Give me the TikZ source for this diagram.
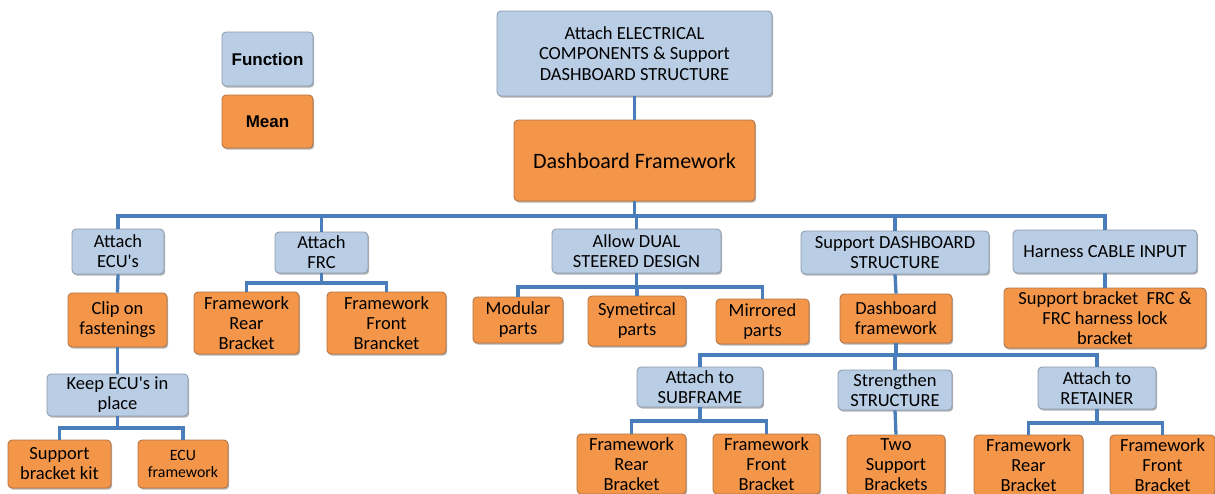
\documentclass[tikz,border=0pt]{standalone}
\usepackage{fontspec}
\setmainfont{Carlito}[Ligatures=TeXOff]
\newfontfamily\legendfont{Liberation Sans}
\usetikzlibrary{shadows}
\definecolor{bfill}{HTML}{B9CDE5}
\definecolor{bdraw}{HTML}{8A98AA}
\definecolor{ofill}{HTML}{F4964A}
\definecolor{odraw}{HTML}{B0713F}
\definecolor{lineblue}{HTML}{4A7EBB}
\tikzset{
  box/.style={rounded corners=4pt, line width=0.8pt, inner sep=0pt, align=center,
    font=\fontsize{18.5}{20}\selectfont,
    drop shadow={shadow xshift=1.2pt, shadow yshift=-1.6pt, opacity=0.3, fill=black}},
  fn/.style={box, fill=bfill, draw=bdraw},
  mn/.style={box, fill=ofill, draw=odraw},
  conn/.style={draw=lineblue, line width=3.3pt},
  lgd/.style={font=\legendfont\bfseries\fontsize{17}{20}\selectfont}
}
\begin{document}
\begin{tikzpicture}[x=1pt,y=-1pt]
\useasboundingbox (0,0) rectangle (1215,493);
\clip (0,0) rectangle (1215,493);
% legend
\node[fn, lgd, minimum width=91pt, minimum height=54pt] (fun) at (267.5,59) {Function};
\node[mn, lgd, minimum width=91pt, minimum height=53pt] (mean) at (267.5,121.5) {Mean};
% top
\node[fn, minimum width=275pt, minimum height=85pt, font=\fontsize{18.5}{20.5}\selectfont] (top) at (634.5,53.5) {Attach ELECTRICAL\\COMPONENTS \& Support\\DASHBOARD STRUCTURE};
\node[mn, minimum width=241pt, minimum height=81pt, font=\fontsize{22}{24}\selectfont] (dfw) at (634.5,160.5) {Dashboard Framework};
% level 1 functions
\node[fn, minimum width=92pt, minimum height=45pt] (ecu) at (118,251.5) {Attach\\ECU's};
\node[fn, minimum width=93pt, minimum height=41pt] (frc) at (321.5,252.5) {Attach\\FRC};
\node[fn, minimum width=169pt, minimum height=44pt] (dual) at (636.5,251) {Allow DUAL\\STEERED DESIGN};
\node[fn, minimum width=188pt, minimum height=43pt] (sds) at (895,252.5) {Support DASHBOARD\\STRUCTURE};
\node[fn, minimum width=184pt, minimum height=43pt] (har) at (1105,251.5) {Harness CABLE INPUT};
% level 1 means
\node[mn, minimum width=99pt, minimum height=54pt] (clip) at (117.5,320) {Clip on\\fastenings};
\node[mn, minimum width=105pt, minimum height=62pt] (frbA) at (246.5,323) {Framework\\Rear\\Bracket};
\node[mn, minimum width=119pt, minimum height=62pt] (ffbA) at (386.5,323) {Framework\\Front\\Brancket};
\node[mn, minimum width=90pt, minimum height=46pt] (mod) at (518,320) {Modular\\parts};
\node[mn, minimum width=98pt, minimum height=50pt] (sym) at (637,321) {Symetircal\\parts};
\node[mn, minimum width=93pt, minimum height=45pt] (mir) at (762.5,321.5) {Mirrored\\parts};
\node[mn, minimum width=112pt, minimum height=49pt] (dfs) at (896,318.5) {Dashboard\\framework};
\node[mn, minimum width=202pt, minimum height=60pt] (sbf) at (1105,318) {Support bracket\ \ FRC \&\\FRC harness lock\\bracket};
% level 2
\node[fn, minimum width=141pt, minimum height=42pt] (keep) at (117.5,395) {Keep ECU's in\\place};
\node[mn, minimum width=103pt, minimum height=48pt] (sbk) at (59.5,464) {Support\\bracket kit};
\node[mn, minimum width=90pt, minimum height=48pt, font=\fontsize{15.8}{17}\selectfont] (ecuf) at (183,464) {ECU\\framework};
\node[fn, minimum width=126pt, minimum height=40pt] (sub) at (700,387) {Attach to\\SUBFRAME};
\node[fn, minimum width=114pt, minimum height=40pt] (str) at (895,390) {Strengthen\\STRUCTURE};
\node[fn, minimum width=118pt, minimum height=42pt] (ret) at (1097,388) {Attach to\\RETAINER};
\node[mn, minimum width=109pt, minimum height=60pt] (frbB) at (631.5,464) {Framework\\Rear\\Bracket};
\node[mn, minimum width=107pt, minimum height=60pt] (ffbB) at (766.5,464) {Framework\\Front\\Bracket};
\node[mn, minimum width=98pt, minimum height=60pt] (two) at (896,465) {Two\\Support\\Brackets};
\node[mn, minimum width=109pt, minimum height=60pt] (frbC) at (1028.5,465) {Framework\\Rear\\Bracket};
\node[mn, minimum width=105pt, minimum height=60pt] (ffbC) at (1162.5,465) {Framework\\Front\\Bracket};
% connectors
\draw[conn] (top.south) -- (dfw.north);
\foreach \c in {ecu,frc,dual,sds,har}
  \draw[conn] (dfw.south) -- (dfw.south |- 0,216) -| (\c.north);
\draw[conn] (ecu.south) -- (clip.north);
\draw[conn] (clip.south) -- (keep.north);
\foreach \c in {sbk,ecuf}
  \draw[conn] (keep.south) -- (keep.south |- 0,428) -| (\c.north);
\foreach \c in {frbA,ffbA}
  \draw[conn] (frc.south) -- (frc.south |- 0,283) -| (\c.north);
\foreach \c in {mod,sym,mir}
  \draw[conn] (dual.south) -- (dual.south |- 0,287) -| (\c.north);
\draw[conn] (sds.south) -- (dfs.north);
\draw[conn] (har.south) -- (sbf.north);
\foreach \c in {sub,str,ret}
  \draw[conn] (dfs.south) -- (dfs.south |- 0,355) -| (\c.north);
\foreach \c in {frbB,ffbB}
  \draw[conn] (sub.south) -- (sub.south |- 0,421) -| (\c.north);
\draw[conn] (str.south) -- (two.north);
\foreach \c in {frbC,ffbC}
  \draw[conn] (ret.south) -- (ret.south |- 0,423) -| (\c.north);
\end{tikzpicture}
\end{document}
